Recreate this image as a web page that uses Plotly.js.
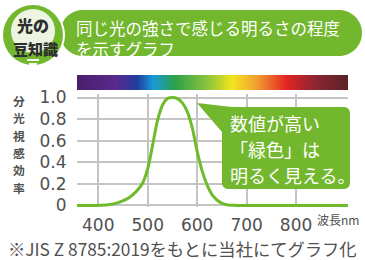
<!DOCTYPE html>
<html><head><meta charset="utf-8">
<script src="https://cdn.plot.ly/plotly-3.0.1.min.js"></script>
<style>html,body{margin:0;padding:0;background:#fff;}#chart{width:365px;height:260px;}</style>
</head><body><div id="chart"></div>
<script>
// ---- data ----
const wavelength = [357, 380, 400, 420, 440, 460, 470, 480, 490, 500, 510, 520, 530, 540, 550, 560, 570, 580, 590, 600, 610, 620, 630, 640, 650, 660, 680, 700, 750, 800, 850, 905];
const efficiency = [0, 0, 0, 0.005, 0.025, 0.065, 0.10, 0.145, 0.21, 0.34, 0.56, 0.79, 0.93, 0.99, 1.0, 0.99, 0.95, 0.87, 0.72, 0.50, 0.32, 0.19, 0.10, 0.05, 0.02, 0.005, 0, 0, 0, 0, 0, 0];
const xTicks = [400, 500, 600, 700, 800];
const yTicks = [0, 0.2, 0.4, 0.6, 0.8, 1.0];
const yTickText = ['0', '0.2', '0.4', '0.6', '0.8', '1.0'];
const yTitleChars = ['分', '光', '視', '感', '効', '率'];
const headerLines = ['同じ光の強さで感じる明るさの程度', 'を示すグラフ'];
const calloutLines = ['数値が高い', '「緑色」は', '明るく見える。'];
const footnote = '※JIS Z 8785:2019をもとに当社にてグラフ化';
const xUnit = '波長';
const spectrumStops = [
  [0.0, '#4a1f6c'], [0.14, '#5a2a8c'], [0.22, '#1f3d9c'], [0.28, '#1a9ad8'],
  [0.36, '#2aa14a'], [0.48, '#8cc43c'], [0.57, '#f4e41e'], [0.66, '#f0a032'],
  [0.77, '#e42521'], [0.88, '#8a2532'], [1.0, '#5a2228']
];

// ---- geometry helpers ----
const W = 365, H = 260, ML = 77, MR = 17, MT = 75, MB = 53;
const PW = W - ML - MR, PH = H - MT - MB;
const X = px => (px - ML) / PW;
const Y = py => (H - MB - py) / PH;
const P = (x, y) => X(x).toFixed(4) + ',' + Y(y).toFixed(4);
function rr(x0, y0, x1, y1, r) {
  const k = 0.5523 * r;
  return 'M' + P(x0 + r, y0) + ' L' + P(x1 - r, y0) +
    ' C' + P(x1 - r + k, y0) + ' ' + P(x1, y0 + r - k) + ' ' + P(x1, y0 + r) +
    ' L' + P(x1, y1 - r) +
    ' C' + P(x1, y1 - r + k) + ' ' + P(x1 - r + k, y1) + ' ' + P(x1 - r, y1) +
    ' L' + P(x0 + r, y1) +
    ' C' + P(x0 + r - k, y1) + ' ' + P(x0, y1 - r + k) + ' ' + P(x0, y1 - r) +
    ' L' + P(x0, y0 + r) +
    ' C' + P(x0, y0 + r - k) + ' ' + P(x0 + r - k, y0) + ' ' + P(x0 + r, y0) + ' Z';
}
function circ(cx, cy, r, fill) {
  return {type: 'circle', xref: 'paper', yref: 'paper', x0: X(cx - r), x1: X(cx + r), y0: Y(cy + r), y1: Y(cy - r),
    fillcolor: fill, line: {width: 0}, layer: 'above'};
}

const FONT = '"Noto Sans CJK JP", "Noto Sans", sans-serif';
const NUMFONT = '"DejaVu Sans", sans-serif';
const GREEN = '#72b72d';
const TEXTC = '#505050';

// spectrum bar samples (decorative gradient)
const barX = [], barZ = [];
for (let i = 0; i <= 60; i++) { barX.push(357 + (905 - 357) * i / 60); barZ.push(i / 60); }

const traces = [
  {type: 'heatmap', x: barX, y: [0], z: [barZ], xaxis: 'x', yaxis: 'y2', colorscale: spectrumStops,
   zmin: 0, zmax: 1, zsmooth: 'best', showscale: false, hoverinfo: 'skip'},
  {type: 'scatter', mode: 'lines', x: wavelength, y: efficiency, xaxis: 'x', yaxis: 'y',
   line: {color: '#6fbb2a', width: 3, shape: 'spline', smoothing: 0.8}, hoverinfo: 'skip'}
];

const shapes = [
  // header pill
  {type: 'path', xref: 'paper', yref: 'paper', path: rr(60, 10, 362, 56, 23), fillcolor: GREEN, line: {width: 0}, layer: 'above'},
  circ(33, 35, 32, '#ffffff'),
  circ(33, 35, 30, GREEN),
  circ(33, 31, 22, '#edf4e2'),
  {type: 'rect', xref: 'paper', yref: 'paper', x0: X(27), x1: X(39), y0: Y(61), y1: Y(59), fillcolor: '#f4f8ee', line: {width: 0}, layer: 'above'},
  {type: 'rect', xref: 'paper', yref: 'paper', x0: X(29), x1: X(37), y0: Y(65), y1: Y(63), fillcolor: '#f4f8ee', line: {width: 0}, layer: 'above'},
  // callout
  {type: 'path', xref: 'paper', yref: 'paper', path: rr(222, 107, 350, 189, 6), fillcolor: GREEN, line: {width: 0}, layer: 'above'},
  {type: 'path', xref: 'paper', yref: 'paper', path: 'M' + P(197, 103) + ' L' + P(232, 107) + ' L' + P(222, 132) + ' Z', fillcolor: GREEN, line: {width: 0}, layer: 'above'}
];

const annotations = [];
// y title stacked, one character per annotation
yTitleChars.forEach((ch, i) => annotations.push({xref: 'paper', yref: 'paper', x: X(19), y: Y(100.5 + i * 17.3),
  xanchor: 'center', yanchor: 'middle', showarrow: false, text: ch,
  font: {family: FONT, size: 11.8, color: TEXTC, weight: 700}}));
// x unit
annotations.push({xref: 'paper', yref: 'paper', x: X(315), y: Y(219), xanchor: 'left', yanchor: 'middle', showarrow: false,
  text: xUnit + '<span style="font-size:12px">nm</span>', font: {family: FONT, size: 12, color: TEXTC}});
// footnote
annotations.push({xref: 'paper', yref: 'paper', x: X(6), y: Y(248), xanchor: 'left', yanchor: 'middle', showarrow: false,
  text: footnote, font: {family: FONT, size: 17.3, color: TEXTC}});
// header text (single block)
annotations.push({xref: 'paper', yref: 'paper', x: X(74), y: Y(38.5), xanchor: 'left', yanchor: 'middle', align: 'left', showarrow: false,
  text: headerLines.join('<br>'), font: {family: FONT, size: 16.5, color: '#ffffff'}});
// icon text
annotations.push({xref: 'paper', yref: 'paper', x: X(33), y: Y(25), xanchor: 'center', yanchor: 'middle', showarrow: false,
  text: '光の', font: {family: FONT, size: 16, color: '#2e2e2e', weight: 900}});
annotations.push({xref: 'paper', yref: 'paper', x: X(35), y: Y(49), xanchor: 'center', yanchor: 'middle', showarrow: false,
  text: '豆知識', font: {family: FONT, size: 15, color: '#2e2e2e', weight: 900}});
// callout text
[123, 149, 175].forEach((py, i) => annotations.push({xref: 'paper', yref: 'paper', x: X(228), y: Y(py), xanchor: 'left', yanchor: 'middle',
  showarrow: false, text: calloutLines[i], font: {family: FONT, size: 18, color: '#ffffff'}}));

const layout = {
  width: W, height: H, margin: {l: ML, r: MR, t: MT, b: MB, pad: 0},
  paper_bgcolor: '#ffffff', plot_bgcolor: '#ffffff', showlegend: false,
  font: {family: FONT, color: TEXTC},
  xaxis: {range: [357, 905], tickvals: xTicks, ticktext: xTicks.map(String), showgrid: true, gridcolor: '#c4c4c4', gridwidth: 2,
    zeroline: false, showline: false, ticks: 'outside', ticklen: 3, tickcolor: 'rgba(0,0,0,0)', tickfont: {family: NUMFONT, size: 17, color: TEXTC}, fixedrange: true},
  yaxis: {domain: [0, 0.854], range: [-0.015, 1.03], tickvals: yTicks, ticktext: yTickText, showgrid: true, gridcolor: '#c4c4c4', gridwidth: 2,
    zeroline: false, showline: false, ticks: 'outside', ticklen: 6, tickcolor: 'rgba(0,0,0,0)', tickfont: {family: NUMFONT, size: 17, color: TEXTC}, fixedrange: true},
  yaxis2: {domain: [0.886, 1], range: [-0.5, 0.5], showgrid: false, zeroline: false, showticklabels: false, ticks: '', fixedrange: true},
  shapes: shapes, annotations: annotations
};

Plotly.newPlot('chart', traces, layout, {staticPlot: true, displayModeBar: false});
</script></body></html>
